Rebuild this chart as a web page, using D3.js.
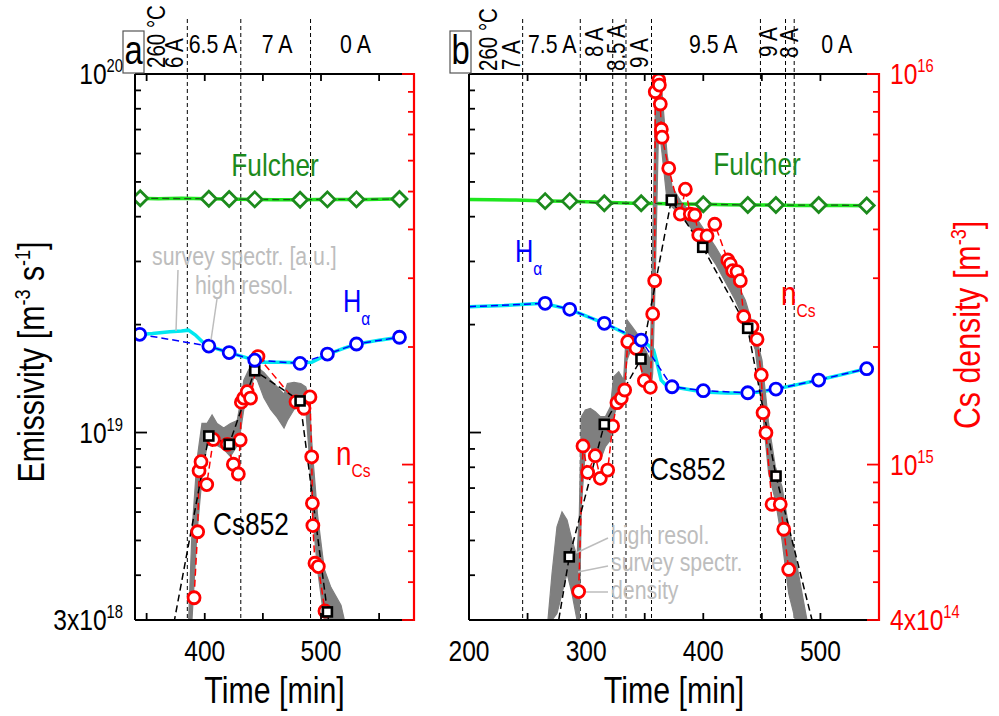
<!DOCTYPE html>
<html><head><meta charset="utf-8">
<script src="https://cdn.jsdelivr.net/npm/d3@7"></script>
<style>
body{margin:0;background:#fff}
svg{display:block}
text{font-family:"Liberation Sans",Arial,Helvetica,sans-serif}
</style>
</head><body>
<svg id="c" width="999" height="716"></svg>
<script>
// ---------------- DATA ----------------
// Panel a
const phaseLinesA = [385, 431, 491];
const phaseLabelsA = [
  {t: 365.8, y0: 68, text: "260 °C", rot: true},
  {t: 381.3, y0: 68, text: "6 A", rot: true},
  {t: 407.1, text: "6.5 A"},
  {t: 462.2, text: "7 A"},
  {t: 529.7, text: "0 A"}
];
const fulcherSurveyA = [[340,4.50e19],[360,4.49e19],[380,4.50e19],[400,4.49e19],[420,4.48e19],[440,4.47e19],[460,4.46e19],[480,4.46e19],[500,4.47e19],[520,4.47e19],[540,4.47e19],[560,4.48e19],[572,4.48e19]];
const fulcherA = [[344.5,4.50e19],[403.5,4.49e19],[421,4.48e19],[443,4.47e19],[482,4.46e19],[505.5,4.47e19],[530.5,4.47e19],[567.5,4.48e19]];
const halphaA = [[344,1.879e19],[403.5,1.742e19],[421,1.671e19],[443,1.592e19],[482,1.559e19],[505.5,1.655e19],[530.5,1.766e19],[567.5,1.844e19]];
const halphaSurveyA = [[340,1.875e19],[355,1.89e19],[370,1.91e19],[380,1.92e19],[386,1.93e19],[392,1.87e19],[398,1.79e19],[404,1.74e19],[421,1.67e19],[435,1.62e19],[443,1.59e19],[450,1.57e19],[465,1.57e19],[482,1.565e19],[492,1.57e19],[506,1.655e19],[520,1.72e19],[531,1.766e19],[550,1.81e19],[567,1.844e19],[572,1.85e19]];
const cs852A = [[403.5,9.78e18],[421,9.27e18],[443,1.487e19],[482,1.225e19],[505.5,3.16e18]];
const cs852TrendA = [[370,2.56e18],[403.5,9.78e18],[421,9.27e18],[443,1.487e19],[482,1.225e19],[505.5,3.16e18],[509,2.58e18]];
// survey spectrometer Cs852: [time, lower, upper]
const cs852SurveyA = [
  [386.1,3.0e18,3.0e18],[389.0,3.0e18,5.25e18],[393.3,5.25e18,8.38e18],[397.6,7.45e18,1.06e19],
  [401.9,9.2e18,1.06e19],[406.3,9.2e18,1.12e19],[410.6,9.2e18,1.06e19],[416.3,8.99e18,1.03e19],
  [422.1,8.57e18,1.06e19],[427.9,9.2e18,1.08e19],[430.8,1.01e19,1.22e19],[433.6,1.16e19,1.40e19],
  [438.0,1.28e19,1.50e19],[442.3,1.43e19,1.56e19],[445.2,1.40e19,1.52e19],[450.9,1.25e19,1.47e19],
  [456.7,1.16e19,1.40e19],[462.4,1.10e19,1.34e19],[468.2,1.03e19,1.28e19],[471.1,1.08e19,1.37e19],
  [476.8,1.16e19,1.38e19],[482.6,1.19e19,1.37e19],[486.9,1.16e19,1.34e19],[489.8,8.77e18,1.25e19],
  [492.7,5.9e18,8.77e18],[497.0,4.16e18,5.9e18],[502.8,3.0e18,4.16e18],[508.5,3.0e18,3.7e18],
  [517.2,3.0e18,3.3e18],[520.1,3.0e18,3.0e18]
];
const densityA = [[390.8,4.56e14],[393.9,6.73e14],[395.1,9.64e14],[396.8,1.017e15],[401.7,8.89e14],[407.4,1.16e15],[419.4,1.127e15],[424.6,1.002e15],[428.9,9.46e14],[430.5,1.156e15],[431.5,1.445e15],[433.5,1.48e15],[436.5,1.537e15],[439.4,1.48e15],[445.8,1.89e15],[478.5,1.448e15],[485.4,1.394e15],[490.5,1.49e15],[492.0,1.047e15],[492.6,7.96e14],[493.0,6.98e14],[494.8,5.59e14],[497.7,5.48e14],[503.4,4.22e14]];

// Panel b
const phaseLinesB = [245.8, 295, 322.7, 334, 355.8, 448.8, 470.2, 477.6];
const phaseLabelsB = [
  {t: 223.9, y0: 71, text: "260 °C", rot: true},
  {t: 243.5, y0: 70, text: "7 A", rot: true},
  {t: 271.1, text: "7.5 A"},
  {t: 314.4, y0: 57, text: "8 A", rot: true},
  {t: 333.2, y0: 71, text: "8.5 A", rot: true},
  {t: 352.8, y0: 68, text: "9 A", rot: true},
  {t: 408.5, text: "9.5 A"},
  {t: 462.9, y0: 57, text: "9 A", rot: true},
  {t: 480.9, y0: 58, text: "8 A", rot: true},
  {t: 513.9, text: "0 A"}
];
const fulcherSurveyB = [[200,4.47e19],[220,4.46e19],[240,4.45e19],[260,4.43e19],[280,4.42e19],[300,4.40e19],[320,4.38e19],[340,4.36e19],[360,4.35e19],[380,4.34e19],[400,4.33e19],[420,4.32e19],[440,4.31e19],[460,4.31e19],[480,4.30e19],[500,4.30e19],[520,4.30e19],[545,4.29e19]];
const fulcherB = [[265,4.42e19],[286,4.42e19],[315.5,4.36e19],[347,4.36e19],[400,4.335e19],[438,4.31e19],[462,4.31e19],[498.5,4.31e19],[539.5,4.30e19]];
const halphaB = [[265,2.293e19],[286,2.206e19],[315.5,2.017e19],[347,1.811e19],[373.3,1.342e19],[400,1.308e19],[438,1.291e19],[462,1.322e19],[498.5,1.401e19],[539.5,1.507e19]];
const halphaSurveyB = [[200,2.244e19],[230,2.26e19],[263,2.293e19],[286,2.206e19],[315.5,2.017e19],[340,1.846e19],[347,1.811e19],[353,1.754e19],[357.5,1.70e19],[361,1.542e19],[364,1.40e19],[368,1.357e19],[373.3,1.342e19],[385,1.322e19],[400,1.297e19],[420,1.29e19],[438,1.29e19],[450,1.30e19],[462,1.322e19],[480,1.36e19],[498.5,1.401e19],[520,1.455e19],[539.2,1.507e19],[545,1.52e19]];
const cs852B = [[285.6,4.50e18],[315.5,1.054e19],[346.8,1.603e19],[372.7,4.45e19],[399.5,3.286e19],[437.9,1.953e19],[462.1,7.56e18]];
const cs852TrendB = [[272,2.44e18],[285.6,4.50e18],[315.5,1.054e19],[346.8,1.603e19],[372.7,4.45e19],[399.5,3.286e19],[437.9,1.953e19],[462.1,7.56e18],[495,2.81e18]];
const cs852SurveyB = [
  [267.4,3.0e18,3.0e18],[270.9,3.0e18,4.05e18],[275.1,3.13e18,5.46e18],[279.4,3.56e18,6.01e18],
  [283.7,4.05e18,5.70e18],[287.9,3.56e18,5.01e18],[292.2,3.0e18,4.51e18],[294.2,3.0e18,5.95e18],
  [295.9,6.21e18,1.107e19],[299.3,8.94e18,1.155e19],[303.6,9.13e18,1.168e19],[307.8,8.56e18,1.143e19],
  [312.1,8.38e18,1.107e19],[316.4,9.13e18,1.107e19],[320.7,9.53e18,1.18e19],[323.5,1.107e19,1.431e19],
  [327.8,1.232e19,1.478e19],[332.0,1.259e19,1.401e19],[334.9,1.593e19,2.06e19],[339.2,1.736e19,1.973e19],
  [343.4,1.663e19,1.891e19],[347.7,1.462e19,1.774e19],[352.0,1.371e19,1.663e19],[354.8,1.286e19,1.593e19],
  [356.8,1.462e19,3.44e19],[359.1,2.78e19,8.11e19],[361.9,7.29e19,9.62e19],[364.8,6.01e19,8.83e19],
  [369.0,4.45e19,6.01e19],[373.3,4.26e19,4.85e19],[381.8,4.0e19,4.36e19],[393.2,3.59e19,4.0e19],
  [410.3,2.96e19,3.30e19],[427.4,2.34e19,2.66e19],[435.9,2.02e19,2.34e19],[444.4,1.70e19,1.891e19],
  [450.1,1.18e19,1.593e19],[455.8,7.69e18,1.06e19],[461.5,6.48e18,8.03e18],[467.2,5.01e18,7.06e18],
  [472.9,3.56e18,5.46e18],[478.6,3.0e18,4.51e18],[484.3,3.0e18,3.56e18],[488.5,3.0e18,3.0e18]
];
const densityB = [[293.6,4.73e14],[297.3,1.116e15],[301.3,9.55e14],[307.8,1.054e15],[312.1,9.22e14],[318.4,9.68e14],[322.6,1.255e15],[326.3,1.44e15],[330.0,1.478e15],[332.9,1.552e15],[335.5,2.064e15],[342.6,1.985e15],[349.7,1.64e15],[354.8,1.577e15],[356.8,2.43e15],[358.5,2.957e15],[359.0,9.01e15],[362.0,9.65e15],[362.5,9.37e15],[363.3,8.38e15],[364.2,7.22e15],[364.8,6.89e15],[370.5,5.735e15],[380.4,4.38e15],[384.7,5.07e15],[388.9,4.38e15],[392.7,4.355e15],[396.1,3.87e15],[403.2,3.85e15],[409.8,4.124e15],[420.9,3.34e15],[423.1,3.26e15],[425.1,3.136e15],[428.8,3.119e15],[431.6,2.957e15],[434.5,2.391e15],[441.6,2.254e15],[445.9,2.093e15],[449.5,1.696e15],[451.0,1.358e15],[453.5,1.206e15],[458.7,7.91e14],[465.7,7.91e14],[468.7,6.83e14],[472.9,5.39e14]];

// axis ticks
const xTicksA = [350,400,450,500,550], xLabelsA = [400,500];
const xTicksB = [200,250,300,350,400,450,500,550], xLabelsB = [200,300,400,500];
const yLeftMajor = [3e18,1e19,1e20];
const yLeftMinor = [4e18,5e18,6e18,7e18,8e18,9e18,2e19,3e19,4e19,5e19,6e19,7e19,8e19,9e19];
const yLeftLabels = [{v:1e20, pre:"10", exp:"20"},{v:1e19, pre:"10", exp:"19"},{v:3e18, pre:"3x10", exp:"18"}];
const yRightMajor = [4e14,1e15,1e16];
const yRightMinor = [5e14,6e14,7e14,8e14,9e14,2e15,3e15,4e15,5e15,6e15,7e15,8e15,9e15];
const yRightLabels = [{v:1e16, pre:"10", exp:"16"},{v:1e15, pre:"10", exp:"15"},{v:4e14, pre:"4x10", exp:"14"}];

// ---------------- DRAWING ----------------
const svg = d3.select("#c");
const TOP = 74, BOT = 620;
const yL = d3.scaleLog().domain([3e18, 1e20]).range([BOT, TOP]);
const yR = d3.scaleLog().domain([4e14, 1e16]).range([BOT, TOP]);
const RED = "#ff0000", BLUE = "#0000ff", CYAN = "#00e8f0", DKGREEN = "#1c8a1c", LTGREEN = "#1ee61e", GRAYTXT = "#bdbdbd";
const NARROW = 0.82; // horizontal squeeze to mimic the narrow Helvetica of the original

function rich(g, x, y, parts, o) {
  const size = o.size || 30;
  const t = g.append("text")
    .attr("transform", `translate(${x},${y})` + (o.rot ? ` rotate(${o.rot})` : "") + ` scale(${NARROW},1)`)
    .attr("font-size", size).attr("fill", o.color || "#000")
    .attr("text-anchor", o.anchor || "start");
  let shift = 0;
  parts.forEach(p => {
    const s = typeof p === "string" ? p : p[0];
    const type = typeof p === "string" ? "" : p[1];
    const target = type === "sup" ? -(o.supShift || 0.42 * size) : type === "sub" ? (o.subShift || 0.3 * size) : 0;
    const ts = t.append("tspan").text(s).attr("dy", target - shift);
    if (type) ts.attr("font-size", o.smallSize || 0.62 * size);
    shift = target;
  });
  return t;
}

function panel(cfg) {
  const x = d3.scaleLinear().domain(cfg.domain).range([cfg.x0, cfg.x1]);
  const g = svg.append("g");
  const clipId = "clip" + cfg.id;
  svg.append("clipPath").attr("id", clipId).append("rect")
    .attr("x", cfg.x0).attr("y", TOP).attr("width", cfg.x1 - cfg.x0).attr("height", BOT - TOP);

  g.append("g").selectAll("line").data(cfg.phaseLines).join("line")
    .attr("x1", d => x(d)).attr("x2", d => x(d)).attr("y1", 19).attr("y2", BOT)
    .attr("stroke", "#000").attr("stroke-width", 1).attr("stroke-dasharray", "4,3");

  cfg.phaseLabels.forEach(l => {
    if (l.rot) rich(g, x(l.t), l.y0, [l.text], {size: 25, rot: -90});
    else rich(g, x(l.t), 53, [l.text], {size: 26, anchor: "middle"});
  });

  const d = g.append("g").attr("clip-path", `url(#${clipId})`);
  const lineL = d3.line().x(p => x(p[0])).y(p => yL(p[1]));
  const lineR = d3.line().x(p => x(p[0])).y(p => yR(p[1]));

  d.append("path").datum(cfg.fulcherSurvey).attr("d", lineL).attr("fill", "none")
    .attr("stroke", LTGREEN).attr("stroke-width", 3.5);
  d.append("path").datum(cfg.halphaSurvey).attr("d", lineL).attr("fill", "none")
    .attr("stroke", CYAN).attr("stroke-width", 3.5);
  d.append("path").datum(cfg.csSurvey)
    .attr("d", d3.area().x(p => x(p[0])).y0(p => yL(p[1])).y1(p => yL(p[2])))
    .attr("fill", "#7f7f7f").attr("stroke", "#7f7f7f").attr("stroke-width", 1.2);
  d.append("path").datum(cfg.fulcher).attr("d", lineL).attr("fill", "none")
    .attr("stroke", "#1a5a1a").attr("stroke-width", 1.3).attr("stroke-dasharray", "7,4");
  d.append("path").datum(cfg.halphaDash).attr("d", lineL).attr("fill", "none")
    .attr("stroke", BLUE).attr("stroke-width", 1.5).attr("stroke-dasharray", "7,4");
  d.append("path").datum(cfg.density).attr("d", lineR).attr("fill", "none")
    .attr("stroke", RED).attr("stroke-width", 1.5).attr("stroke-dasharray", "7,4");
  d.append("path").datum(cfg.csTrend).attr("d", lineL).attr("fill", "none")
    .attr("stroke", "#000").attr("stroke-width", 1.5).attr("stroke-dasharray", "7,4");

  d.append("g").selectAll("path").data(cfg.fulcher).join("path")
    .attr("d", "M0,-7.5L7.5,0L0,7.5L-7.5,0Z")
    .attr("transform", p => `translate(${x(p[0])},${yL(p[1])})`)
    .attr("fill", "#fff").attr("stroke", DKGREEN).attr("stroke-width", 2.8);
  d.append("g").selectAll("circle").data(cfg.density).join("circle")
    .attr("cx", p => x(p[0])).attr("cy", p => yR(p[1])).attr("r", 6)
    .attr("fill", "#fff").attr("stroke", RED).attr("stroke-width", 2.8);
  d.append("g").selectAll("rect").data(cfg.cs).join("rect")
    .attr("x", p => x(p[0]) - 4.5).attr("y", p => yL(p[1]) - 4.5).attr("width", 9).attr("height", 9)
    .attr("fill", "#fff").attr("stroke", "#000").attr("stroke-width", 2.6);
  d.append("g").selectAll("circle").data(cfg.halpha).join("circle")
    .attr("cx", p => x(p[0])).attr("cy", p => yL(p[1])).attr("r", 6)
    .attr("fill", "#fff").attr("stroke", BLUE).attr("stroke-width", 2.8);

  const ax = g.append("g");
  const tk = (sel, x1, y1, x2, y2, col) => sel.append("line").attr("x1", x1).attr("y1", y1).attr("x2", x2).attr("y2", y2).attr("stroke", col).attr("stroke-width", 1.8);
  cfg.xTicks.forEach(t => { tk(ax, x(t), BOT, x(t), BOT - 7, "#000"); tk(ax, x(t), TOP, x(t), TOP + 7, "#000"); });
  yLeftMajor.forEach(v => tk(ax, cfg.x0, yL(v), cfg.x0 + 12, yL(v), "#000"));
  yLeftMinor.forEach(v => tk(ax, cfg.x0, yL(v), cfg.x0 + 6, yL(v), "#000"));
  ax.append("line").attr("x1", cfg.x0).attr("x2", cfg.x1).attr("y1", TOP).attr("y2", TOP).attr("stroke", "#000").attr("stroke-width", 2);
  ax.append("line").attr("x1", cfg.x0).attr("x2", cfg.x1).attr("y1", BOT).attr("y2", BOT).attr("stroke", "#000").attr("stroke-width", 2);
  ax.append("line").attr("x1", cfg.x0).attr("x2", cfg.x0).attr("y1", TOP).attr("y2", BOT).attr("stroke", "#000").attr("stroke-width", 2);
  yRightMajor.forEach(v => tk(ax, cfg.x1, yR(v), cfg.x1 - 12, yR(v), RED));
  yRightMinor.forEach(v => tk(ax, cfg.x1, yR(v), cfg.x1 - 6, yR(v), RED));
  ax.append("line").attr("x1", cfg.x1).attr("x2", cfg.x1).attr("y1", TOP - 1).attr("y2", BOT + 1).attr("stroke", RED).attr("stroke-width", 2.2);

  cfg.xLabels.forEach(t => rich(g, x(t), 661, [String(t)], {size: 30, anchor: "middle"}));
  rich(g, (cfg.x0 + cfg.x1) / 2, 703, ["Time [min]"], {size: 37, anchor: "middle"});

  g.append("rect").attr("x", cfg.boxX).attr("y", 31).attr("width", 21).attr("height", 42)
    .attr("fill", "#fff").attr("stroke", "#555").attr("stroke-width", 1.2);
  rich(g, cfg.boxX + 10.5, 64, [cfg.id], {size: 40, anchor: "middle"});

  return {x, g};
}

const A = panel({id: "a", x0: 135, x1: 414, domain: [340, 580], boxX: 123,
  phaseLines: phaseLinesA, phaseLabels: phaseLabelsA, xTicks: xTicksA, xLabels: xLabelsA,
  fulcherSurvey: fulcherSurveyA, fulcher: fulcherA, halpha: halphaA, halphaDash: halphaA,
  halphaSurvey: halphaSurveyA, cs: cs852A, csTrend: cs852TrendA, csSurvey: cs852SurveyA, density: densityA});
const B = panel({id: "b", x0: 469, x1: 879, domain: [200, 550], boxX: 450,
  phaseLines: phaseLinesB, phaseLabels: phaseLabelsB, xTicks: xTicksB, xLabels: xLabelsB,
  fulcherSurvey: fulcherSurveyB, fulcher: fulcherB, halpha: halphaB, halphaDash: [halphaSurveyB[0]].concat(halphaB),
  halphaSurvey: halphaSurveyB, cs: cs852B, csTrend: cs852TrendB, csSurvey: cs852SurveyB, density: densityB});

yLeftLabels.forEach(l => rich(svg, 123, yL(l.v) + 10, [l.pre, [l.exp, "sup"]], {size: 30, anchor: "end", supShift: 12, smallSize: 18}));
rich(svg, 44, 362, ["Emissivity [m", ["-3", "sup"], " s", ["-1", "sup"], "]"], {size: 37, anchor: "middle", rot: -90, supShift: 14, smallSize: 22});
yRightLabels.forEach(l => rich(svg, 890, yR(l.v) + 10, [l.pre, [l.exp, "sup"]], {size: 30, color: RED, supShift: 12, smallSize: 18}));
rich(svg, 980, 325, ["Cs density [m", ["-3", "sup"], "]"], {size: 37, anchor: "middle", rot: -90, color: RED, supShift: 14, smallSize: 22});

const ga = A.g;
rich(ga, 275, 176, ["Fulcher"], {size: 32, anchor: "middle", color: DKGREEN});
rich(ga, 343, 312, ["H", ["α", "sub"]], {size: 31, color: BLUE, subShift: 13, smallSize: 19});
rich(ga, 336, 465, ["n", ["Cs", "sub"]], {size: 34, color: RED, subShift: 12, smallSize: 19});
rich(ga, 213, 535, ["Cs852"], {size: 32});
rich(ga, 152, 265, ["survey spectr. [a.u.]"], {size: 26, color: GRAYTXT});
rich(ga, 195, 294, ["high resol."], {size: 26, color: GRAYTXT});
ga.append("line").attr("x1", 178).attr("y1", 270).attr("x2", 176).attr("y2", 331).attr("stroke", GRAYTXT).attr("stroke-width", 1.5);
ga.append("line").attr("x1", 217).attr("y1", 299).attr("x2", 211).attr("y2", 340).attr("stroke", GRAYTXT).attr("stroke-width", 1.5);

const gb = B.g;
rich(gb, 757, 175, ["Fulcher"], {size: 32, anchor: "middle", color: DKGREEN});
rich(gb, 515, 262, ["H", ["α", "sub"]], {size: 31, color: BLUE, subShift: 13, smallSize: 19});
rich(gb, 781, 305, ["n", ["Cs", "sub"]], {size: 34, color: RED, subShift: 12, smallSize: 19});
rich(gb, 650, 480, ["Cs852"], {size: 32});
rich(gb, 611, 544, ["high resol."], {size: 26, color: GRAYTXT});
rich(gb, 611, 571, ["survey spectr."], {size: 26, color: GRAYTXT});
rich(gb, 611, 599, ["density"], {size: 26, color: GRAYTXT});
gb.append("line").attr("x1", 608).attr("y1", 538).attr("x2", 576).attr("y2", 553).attr("stroke", GRAYTXT).attr("stroke-width", 1.5);
gb.append("line").attr("x1", 608).attr("y1", 566).attr("x2", 578).attr("y2", 572).attr("stroke", GRAYTXT).attr("stroke-width", 1.5);
gb.append("line").attr("x1", 608).attr("y1", 592).attr("x2", 586).attr("y2", 592).attr("stroke", GRAYTXT).attr("stroke-width", 1.5);
</script>
</body></html>
